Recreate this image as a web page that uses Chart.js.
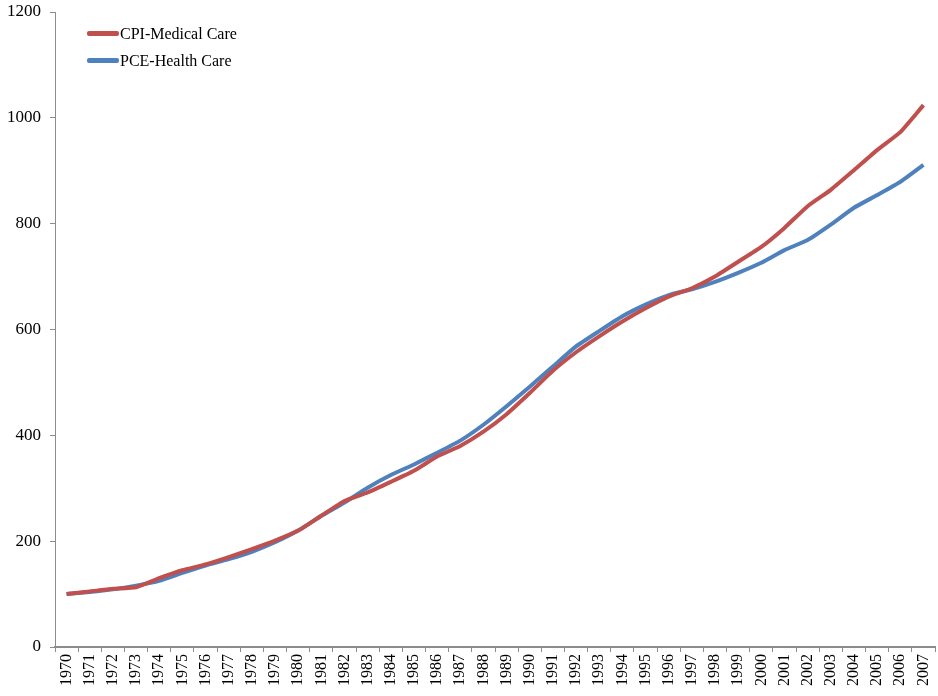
<!DOCTYPE html>
<html>
<head>
<meta charset="utf-8">
<script src="https://cdn.jsdelivr.net/npm/chart.js@4.4.1/dist/chart.umd.min.js"></script>
<style>
    html, body { margin: 0; padding: 0; background: #fff; }
    #wrap { position: relative; width: 938px; height: 696px; }
    #legend { position: absolute; left: 87px; top: 20px; font-family: "Liberation Serif", serif; font-size: 16px; color: #000; }
    .legend-row { display: flex; align-items: center; height: 27px; }
    .legend-swatch { width: 32px; height: 5px; border-radius: 2px; margin-right: 1px; }
</style>
</head>
<body>
<div id="wrap">
    <canvas id="healthChart" width="938" height="696"></canvas>
    <div id="legend"></div>
</div>
<script>
// data (index, 1970 = 100)
const years = ['1970','1971','1972','1973','1974','1975','1976','1977','1978','1979',
    '1980','1981','1982','1983','1984','1985','1986','1987','1988','1989',
    '1990','1991','1992','1993','1994','1995','1996','1997','1998','1999',
    '2000','2001','2002','2003','2004','2005','2006','2007'];

const cpiMedical = [100, 105, 110, 113, 130, 145, 156, 170, 185, 201,
    220, 248, 276, 292, 312, 333, 360, 380, 407, 440,
    480, 522, 557, 587, 615, 640, 662, 678, 700, 728,
    756, 792, 833, 864, 901, 939, 973, 1024];

const pceHealth = [100, 104, 109, 116, 125, 140, 154, 166, 180, 198,
    220, 248, 273, 301, 325, 345, 367, 390, 420, 455,
    492, 530, 568, 597, 625, 647, 665, 676, 690, 707,
    726, 750, 769, 798, 830, 854, 879, 911];

const yTicks = [0, 200, 400, 600, 800, 1000, 1200];

const seriesNames = ['CPI-Medical Care', 'PCE-Health Care'];
const seriesColors = ['#C0504D', '#4F81BD'];

const font = '"Liberation Serif", "Times New Roman", serif';

function renderLegend() {
    const legend = document.getElementById('legend');
    legend.innerHTML = seriesNames.map((name, i) => `
        <div class="legend-row">
            <div class="legend-swatch" style="background:${seriesColors[i]}"></div>
            <span>${name}</span>
        </div>
    `).join('');
}

const ctx = document.getElementById('healthChart').getContext('2d');
new Chart(ctx, {
    type: 'line',
    data: {
        labels: years,
        datasets: [
            {
                label: seriesNames[0],
                data: cpiMedical,
                borderColor: seriesColors[0],
                backgroundColor: seriesColors[0],
                borderWidth: 4,
                pointRadius: 0,
                tension: 0.15,
                fill: false
            },
            {
                label: seriesNames[1],
                data: pceHealth,
                borderColor: seriesColors[1],
                backgroundColor: seriesColors[1],
                borderWidth: 4,
                pointRadius: 0,
                tension: 0.15,
                fill: false
            }
        ]
    },
    options: {
        responsive: false,
        animation: false,
        layout: { padding: { top: 12, right: 3, left: 0, bottom: 0 } },
        plugins: {
            legend: { display: false },
            tooltip: { enabled: false }
        },
        scales: {
            x: {
                offset: true,
                grid: {
                    offset: true,
                    drawOnChartArea: false,
                    drawTicks: true,
                    tickLength: 5,
                    color: '#8c8c8c'
                },
                border: { color: '#8c8c8c', width: 2 },
                ticks: {
                    autoSkip: false,
                    minRotation: 90,
                    maxRotation: 90,
                    padding: 2,
                    color: '#000',
                    font: { family: font, size: 16 }
                },
                afterFit: (scale) => {
                    scale.height = 49;
                    scale.paddingLeft = 0;
                    scale.paddingRight = 0;
                }
            },
            y: {
                min: 0,
                max: 1200,
                afterBuildTicks: (scale) => {
                    scale.ticks = yTicks.map(v => ({ value: v }));
                },
                grid: {
                    drawOnChartArea: false,
                    drawTicks: true,
                    tickLength: 5,
                    color: '#8c8c8c'
                },
                border: { color: '#8c8c8c', width: 1 },
                ticks: {
                    padding: 9,
                    color: '#000',
                    font: { family: font, size: 17 },
                    callback: (value) => String(value)
                },
                afterFit: (scale) => {
                    scale.width = 55;
                    scale.paddingTop = 0;
                    scale.paddingBottom = 0;
                }
            }
        }
    }
});

renderLegend();
</script>
</body>
</html>
